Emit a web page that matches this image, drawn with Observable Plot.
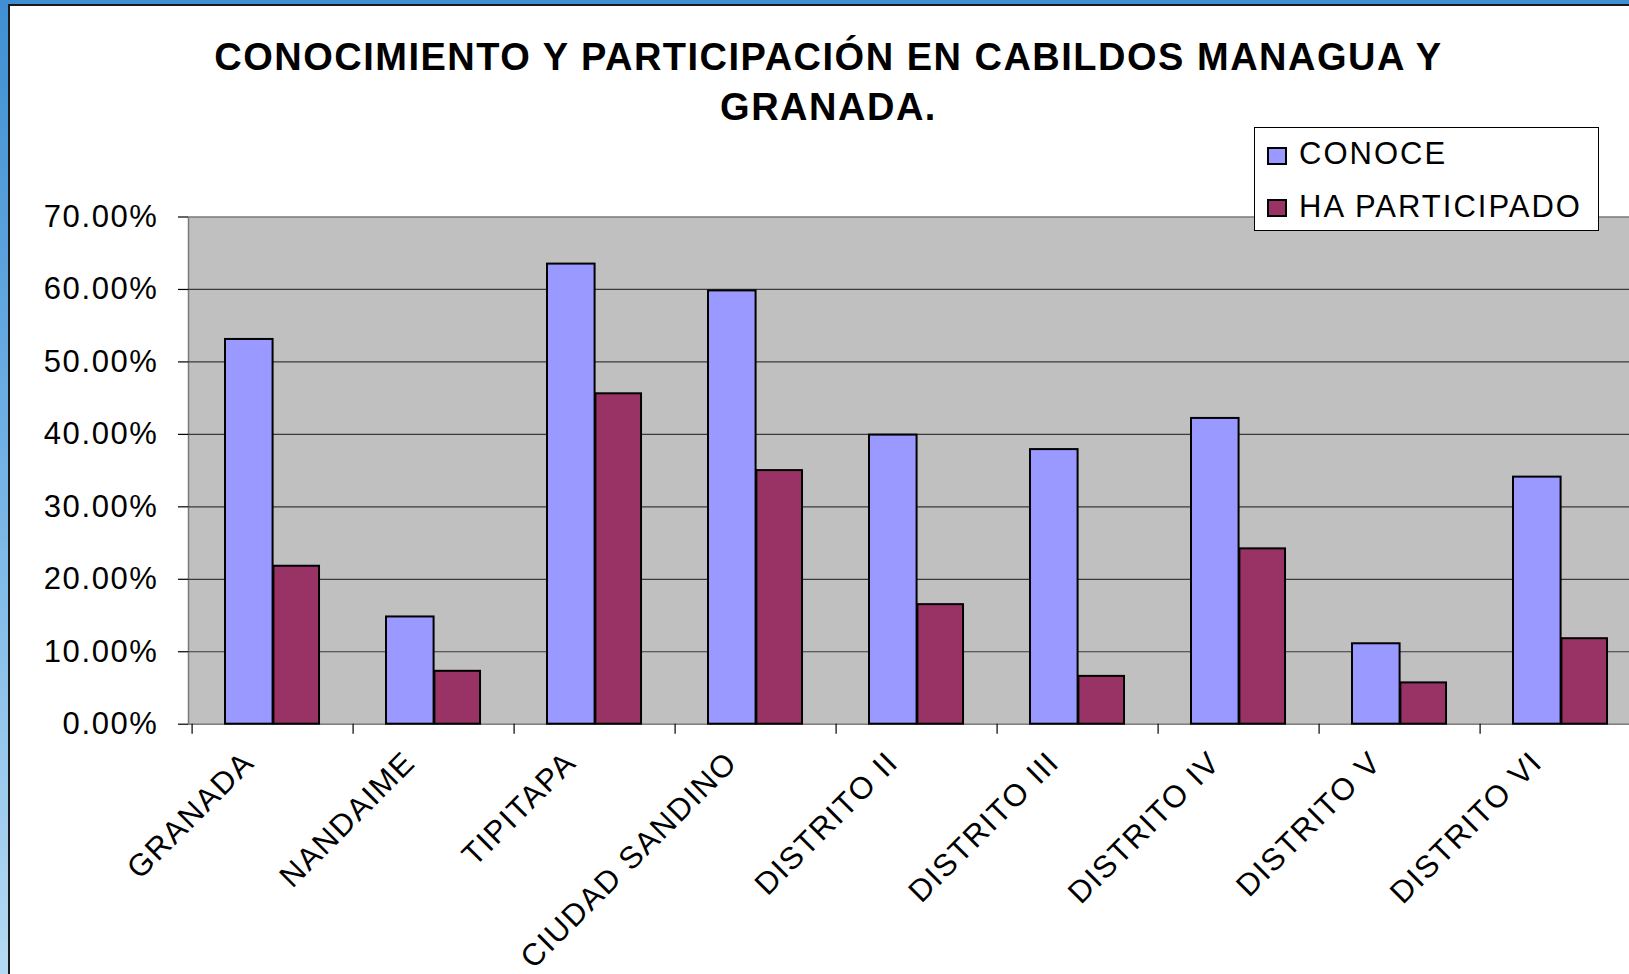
<!DOCTYPE html>
<html>
<head>
<meta charset="utf-8">
<script src="https://cdn.jsdelivr.net/npm/d3@7"></script>
<script src="https://cdn.jsdelivr.net/npm/@observablehq/plot@0.6"></script>
<style>
  html, body { margin: 0; padding: 0; overflow: hidden; width: 1629px; height: 974px; }
  body { position: relative; background: linear-gradient(180deg, #3f8fd2 0%, #6fb0e4 45%, #b5daf3 100%); font-family: "Liberation Sans", Arial, sans-serif; }
  #panel { position: absolute; left: 8px; top: 4px; width: 1700px; height: 1000px; background: #fff; border-left: 2px solid #1a1a1a; border-top: 2px solid #1a1a1a; box-sizing: border-box; }
  #title { position: absolute; left: 128.5px; top: 31.6px; width: 1400px; text-align: center; font-weight: bold; font-size: 38px; line-height: 50.5px; letter-spacing: 1.5px; color: #000; }
  #legend { position: absolute; left: 1254px; top: 127px; width: 345px; height: 104px; box-sizing: border-box; border: 1px solid #000; background: #fff; z-index: 2; }
  .sw { position: absolute; left: 12px; width: 20px; height: 18px; box-sizing: border-box; border: 2px solid #000; }
  .lt { position: absolute; left: 44px; font-size: 31px; line-height: 31px; letter-spacing: 2px; color: #000; white-space: nowrap; }
  #chart { position: absolute; left: 0; top: 150px; width: 1700px; }
  #chart svg { max-width: none !important; }
  #chart svg text { letter-spacing: 1.6px; }
</style>
</head>
<body>
<div id="panel"></div>
<div id="title">CONOCIMIENTO Y PARTICIPACIÓN EN CABILDOS MANAGUA Y<br>GRANADA.</div>
<div id="legend"></div>
<div id="chart"></div>
<script>
const categories = ["GRANADA", "NANDAIME", "TIPITAPA", "CIUDAD SANDINO", "DISTRITO II", "DISTRITO III", "DISTRITO IV", "DISTRITO V", "DISTRITO VI"];
const seriesNames = ["CONOCE", "HA PARTICIPADO"];
const seriesColors = ["#9999FF", "#993366"];
const conoce = [53.1, 14.8, 63.5, 59.8, 39.9, 37.9, 42.2, 11.1, 34.1];
const haParticipado = [21.8, 7.3, 45.6, 35.0, 16.5, 6.6, 24.2, 5.7, 11.8];
const yTicks = [0, 0.1, 0.2, 0.3, 0.4, 0.5, 0.6, 0.7];
const gridTicks = [0.1, 0.2, 0.3, 0.4, 0.5, 0.6];

const data = categories.map((c, i) => ({cat: c, conoce: conoce[i] / 100, part: haParticipado[i] / 100}));

const width = 1665, height = 824;
const marginLeft = 188, marginTop = 66.5, marginBottom = 250.3;
const step = 161.8;
const marginRight = width - marginLeft - step * categories.length;

const chart = Plot.plot({
  width, height, marginTop, marginRight, marginBottom, marginLeft,
  style: {fontFamily: "Liberation Sans, Arial, sans-serif", fontSize: "31px", color: "#000", background: "transparent", overflow: "visible", maxWidth: "none"},
  x: {type: "band", domain: categories, padding: 0, label: null},
  y: {domain: [0, 0.7], label: null},
  marks: [
    Plot.frame({fill: "#C0C0C0", stroke: "#7a7a7a", strokeWidth: 1.5}),
    Plot.gridY(gridTicks, {stroke: "#3a3a3a", strokeOpacity: 1, strokeWidth: 1.2}),
    Plot.barY(data, {x: "cat", y: "conoce", fill: seriesColors[0], stroke: "#000", strokeWidth: 2,
      insetLeft: 0.204 * step, insetRight: step - 0.503 * step}),
    Plot.barY(data, {x: "cat", y: "part", fill: seriesColors[1], stroke: "#000", strokeWidth: 2,
      insetLeft: 0.503 * step, insetRight: step - 0.79 * step}),
    Plot.ruleX(categories, {x: d => d, y1: 0, y2: 0, insetBottom: -10, dx: -step / 2, stroke: "#000", strokeWidth: 1.2}),
    Plot.axisY(yTicks, {tickSize: 10, tickPadding: 20, tickFormat: d3.format(".2%"), fontSize: 31, stroke: "#000", strokeWidth: 1.2}),
    Plot.axisX({tickSize: 0, tickPadding: 0, tickRotate: -45, textAnchor: "end", lineAnchor: "bottom", dx: -17, dy: 40, fontSize: 31})
  ]
});
document.getElementById("chart").appendChild(chart);

const legend = document.getElementById("legend");
const tops = [[19, 10.3], [71, 62.8]];
seriesNames.forEach((name, i) => {
  const sw = document.createElement("div");
  sw.className = "sw";
  sw.style.top = tops[i][0] + "px";
  sw.style.background = seriesColors[i];
  legend.appendChild(sw);
  const t = document.createElement("div");
  t.className = "lt";
  t.style.top = tops[i][1] + "px";
  t.textContent = name;
  legend.appendChild(t);
});
</script>
</body>
</html>
